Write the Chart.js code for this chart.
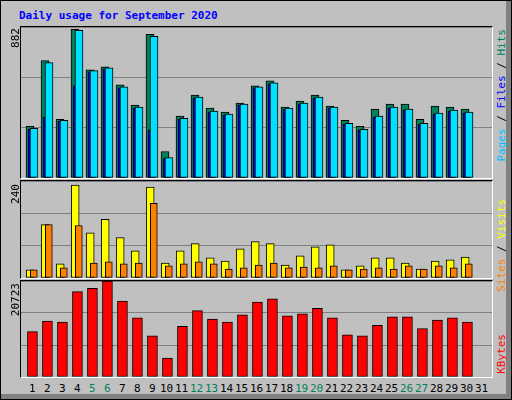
<!DOCTYPE html>
<html><head><meta charset="utf-8">
<script src="https://cdn.jsdelivr.net/npm/chart.js@4"></script>
<style>
body{margin:0;background:#fff;}
#frame{position:absolute;left:0;top:0;width:510px;height:398px;background:#C0C0C0;border:1px solid #000;overflow:hidden;}
#bev{position:absolute;left:505px;top:0;width:5px;height:398px;background:#808080;}
#bevb{position:absolute;left:0;top:393px;width:510px;height:5px;background:#808080;}
.panel{position:absolute;border-top:1px solid #000;border-left:1px solid #000;border-right:1px solid #fff;border-bottom:1px solid #fff;}
.panel canvas{position:absolute;left:0;top:0;}
.t{position:absolute;font-family:"DejaVu Sans Mono",monospace;font-size:11px;white-space:nowrap;}
.v{writing-mode:vertical-rl;transform:rotate(180deg);}
</style></head><body>
<div id="frame">
<div id="bev"></div><div id="bevb"></div>
<div class="t" style="left:18px;top:8px;color:#0000FF;font-weight:bold;">Daily usage for September 2020</div>
<div class="panel" style="left:19px;top:25px;width:471px;height:151px;"><canvas id="c1" width="471" height="151"></canvas></div>
<div class="panel" style="left:19px;top:179px;width:471px;height:97px;"><canvas id="c2" width="471" height="97"></canvas></div>
<div class="panel" style="left:19px;top:279px;width:471px;height:96px;"><canvas id="c3" width="471" height="96"></canvas></div>
<div class="t v" style="left:8px;top:27px;">882</div>
<div class="t v" style="left:8px;top:183px;">240</div>
<div class="t v" style="left:8px;top:282px;">20723</div>
<div class="t v" style="left:494px;top:28px;"><span style="color:#00C0FF">Pages</span><span> / </span><span style="color:#0000FF">Files</span><span> / </span><span style="color:#00805C">Hits</span></div>
<div class="t v" style="left:494px;top:198px;"><span style="color:#FF8000">Sites</span><span> / </span><span style="color:#FFFF00">Visits</span></div>
<div class="t v" style="left:494px;top:333px;"><span style="color:#FF0000">KBytes</span></div>
<div id="xl"></div>
</div>
<script>
const days=[];for(let i=1;i<=31;i++)days.push(i);
const weekend=[5,6,12,13,19,20,26,27];
const hits=[302,686,343,868,632,650,544,426,839,155,361,485,408,385,438,538,568,414,450,485,420,337,302,402,432,432,343,420,414,402,0];
const files=[290,674,337,863,627,644,532,414,827,119,349,473,391,373,432,532,556,408,438,473,414,320,284,361,414,402,320,379,396,385,0];
const pages=[284,355,331,538,620,638,526,408,278,113,343,467,385,367,426,526,550,402,432,467,408,314,278,355,408,396,314,373,390,379,0];
const visits=[20,132,35,230,112,145,100,67,225,37,67,85,50,42,72,90,85,32,55,77,82,20,30,50,50,37,22,42,45,52,0];
const sites=[20,132,25,130,37,40,35,37,185,30,35,40,35,22,25,32,37,25,27,25,30,20,22,25,22,30,22,30,25,35,0];
const kbytes=[9791,12068,11840,18444,19127,20723,16394,12751,8880,4099,10930,14345,12524,11840,13434,16167,16850,13207,13662,14801,12751,9108,8880,11157,12979,12979,10474,12296,12751,11840,0];
const maxes=[882,240,20723];

function ds(vals,off,color,w,order){
  return {data:vals.map((v,i)=>({x:days[i]+off,y:v})),backgroundColor:color,borderColor:'#000',
    borderWidth:1,borderSkipped:false,barThickness:w,grouped:false,order:order};
}
function mk(id,sets,max){
  new Chart(document.getElementById(id),{type:'bar',data:{datasets:sets},
   options:{responsive:false,animation:false,events:[],layout:{padding:0},
    plugins:{legend:{display:false},tooltip:{enabled:false}},
    scales:{x:{type:'linear',min:0.267,max:31.667,offset:false,bounds:'data',grace:0,display:false,grid:{offset:false}},
      y:{min:0,max:max,ticks:{display:false,stepSize:max/3},border:{display:false},
         grid:{color:'#808080',drawTicks:false,lineWidth:1}}}}});
}
mk('c1',[ds(files,0.133,'#00E0FF',8,0),ds(pages,0,'#0000FF',8,1),ds(hits,-0.133,'#00805C',8,2)],maxes[0]);
mk('c2',[ds(sites,0.12,'#FF8000',7,0),ds(visits,-0.12,'#FFFF00',8,1)],maxes[1]);
mk('c3',[ds(kbytes,0.03,'#FF0000',10,0)],maxes[2]);
const xl=document.getElementById('xl');
days.forEach(d=>{const e=document.createElement('div');e.className='t';e.textContent=d;
  const cx=31+15*(d-1);e.style.left=(cx-(d>9?7:3))+'px';e.style.top='381px';
  e.style.color=weekend.includes(d)?'#00805C':'#000';xl.appendChild(e);});
</script></body></html>
